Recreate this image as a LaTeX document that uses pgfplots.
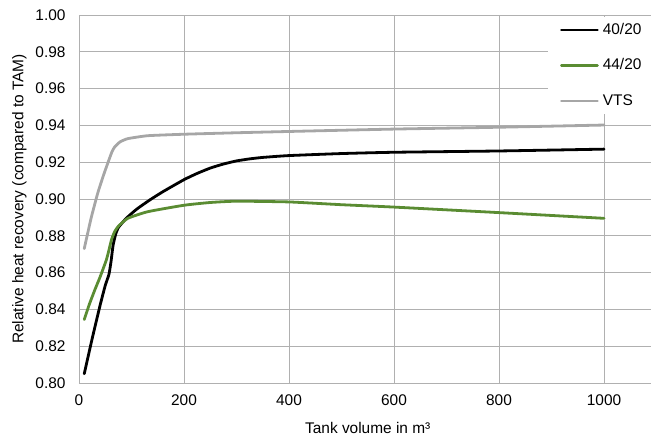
\documentclass[border=0pt]{standalone}
\usepackage{fontspec}
\setmainfont{Liberation Sans}
\usepackage{pgfplots}
\pgfplotsset{compat=1.18}
\definecolor{cgreen}{HTML}{5A8C32}
\definecolor{cgray}{HTML}{A6A6A6}
\definecolor{cgrid}{HTML}{B0B0B0}
\begin{document}
\begin{tikzpicture}
\begin{axis}[
  at={(0,0)}, anchor=south west,
  scale only axis, width=577.5bp, height=368bp,
  xmin=0, xmax=1100, ymin=0.80, ymax=1.00,
  xtick={0,200,400,600,800,1000},
  ytick={0.80,0.82,...,1.001},
  axis line style={draw=none},
  major tick length=0pt,
  grid=major,
  major grid style={cgrid, line width=0.8bp},
  /pgf/number format/assume math mode=true,
  yticklabel style={/pgf/number format/fixed, /pgf/number format/fixed zerofill, /pgf/number format/precision=2, xshift=-10bp},
  xticklabel style={/pgf/number format/set thousands separator={}, yshift=-8bp},
  tick label style={font=\fontsize{15.5}{18}\selectfont},
  label style={font=\fontsize{15.5}{18}\selectfont},
  xlabel={Tank volume in m³},
  ylabel={Relative heat recovery (compared to TAM)},
  xlabel style={yshift=-10bp},
  ylabel style={yshift=2bp},
  legend style={at={(axis cs:893,0.999)}, anchor=north west, draw=none, fill=white,
    font=\fontsize{15.5}{18}\selectfont, inner xsep=12bp, inner ysep=6bp,
    row sep=21.5bp, column sep=2bp, cells={anchor=west},
    nodes={text height=11bp, text depth=3bp, inner ysep=0bp}},
  legend image code/.code={\draw[#1] (0bp,0bp) -- (36bp,0bp);},
  every axis plot/.append style={line width=2.8bp, line join=round, line cap=round},
]
\addplot[black, smooth, tension=0.3] coordinates {
(10,0.805) (25,0.824) (40,0.842) (50,0.853) (57,0.8590) (61,0.8660) (65,0.8750)
(70,0.8810) (75,0.8845) (90,0.8895) (110,0.8945) (135,0.8995) (160,0.9040)
(200,0.9105) (225,0.9139) (250,0.9168) (275,0.9190) (300,0.9207) (325,0.9218)
(350,0.9226) (400,0.9236) (500,0.9247) (600,0.9254) (800,0.9261) (1000,0.9271)};
\addlegendentry{40/20}
\addplot[cgreen, smooth, tension=0.3] coordinates {
(10,0.8345) (20,0.843) (30,0.8505) (40,0.8575) (52,0.8668) (57,0.8722) (62,0.8780)
(68,0.8823) (75,0.8852) (93,0.8895) (131,0.8931) (200,0.8966) (250,0.8981)
(300,0.8988) (400,0.8984) (500,0.8969) (600,0.8956) (800,0.8926) (1000,0.8895)};
\addlegendentry{44/20}
\addplot[cgray, smooth, tension=0.3] coordinates {
(10,0.873) (23,0.8895) (36,0.9035) (48,0.9140) (58,0.9220) (63,0.9258) (68,0.9283)
(78,0.9310) (93,0.9328) (131,0.9344) (200,0.9352) (300,0.9360) (400,0.9367)
(600,0.9380) (800,0.9390) (1000,0.9402)};
\addlegendentry{VTS}
\end{axis}
\pgfresetboundingbox
\path (-79bp,-53bp) rectangle (572bp,383bp);
\end{tikzpicture}
\end{document}
